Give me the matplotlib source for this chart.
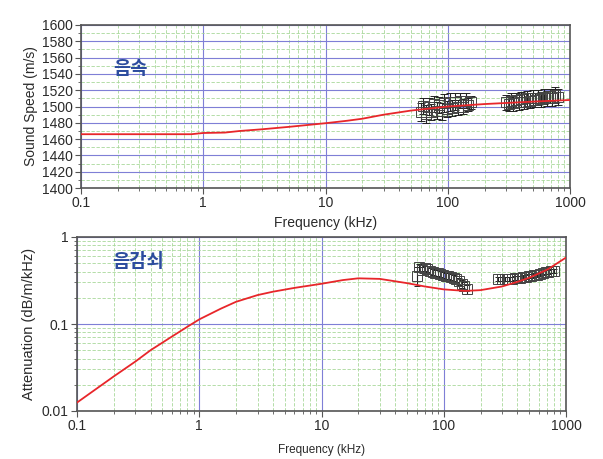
import matplotlib
matplotlib.use("Agg")
import matplotlib.pyplot as plt
from matplotlib.ticker import FixedLocator, FuncFormatter, LogLocator, MultipleLocator, NullFormatter

plt.rcParams['font.family'] = ['Liberation Sans', 'Noto Sans CJK KR', 'DejaVu Sans']

# ---- data ----
speed_curve_f = [0.1, 0.3, 0.8, 1.0, 1.5, 2, 3, 5, 10, 15, 20, 30, 50, 100, 200, 500, 1000]
speed_curve_v = [1466, 1466, 1466, 1467.5, 1468, 1470, 1472, 1475, 1479.5, 1482.5, 1485, 1490, 1495, 1500, 1503, 1506, 1508]

speed_g1_f = [60, 63, 66, 70, 73, 77, 81, 85, 89, 94, 99, 104, 109, 115, 121, 127, 133, 140, 147, 155]
speed_g1_v = [1493, 1501, 1491, 1500, 1493, 1503, 1495, 1502, 1494, 1504, 1497, 1505, 1498, 1506, 1499, 1507, 1500, 1507, 1502, 1505]
speed_g1_e = [11, 10, 11, 10, 10, 10, 10, 10, 10, 11, 10, 11, 10, 10, 9, 9, 9, 9, 8, 8]

speed_g2_f = [300, 315, 330, 345, 360, 380, 400, 420, 445, 470, 495, 520, 550, 580, 610, 645, 680, 715, 755, 795]
speed_g2_v = [1505, 1503, 1507, 1504, 1508, 1505, 1509, 1506, 1510, 1507, 1511, 1508, 1511, 1509, 1512, 1510, 1513, 1511, 1514, 1512]
speed_g2_e = [9, 9, 9, 9, 9, 9, 9, 9, 9, 9, 9, 9, 9, 9, 9, 9, 9, 10, 10, 10]

att_curve_f = [0.1, 0.2, 0.3, 0.4, 0.6, 0.8, 1, 1.5, 2, 3, 4, 6, 10, 15, 20, 30, 50, 70, 100, 150, 200, 300, 400, 500, 700, 1000]
att_curve_a = [0.0125, 0.025, 0.037, 0.05, 0.072, 0.093, 0.113, 0.15, 0.18, 0.215, 0.235, 0.26, 0.29, 0.32, 0.335, 0.33, 0.295, 0.27, 0.25, 0.24, 0.245, 0.27, 0.305, 0.34, 0.42, 0.58]

att_g1_f = [60, 63, 66, 70, 73, 77, 81, 85, 89, 94, 99, 104, 109, 115, 121, 127, 133, 140, 147, 155]
att_g1_a = [0.36, 0.45, 0.42, 0.44, 0.43, 0.41, 0.40, 0.39, 0.39, 0.38, 0.37, 0.36, 0.36, 0.35, 0.34, 0.33, 0.31, 0.29, 0.27, 0.25]
att_g1_e = [0.09, 0.04, 0.03, 0.03, 0.03, 0.03, 0.03, 0.03, 0.03, 0.03, 0.03, 0.03, 0.03, 0.03, 0.03, 0.03, 0.03, 0.03, 0.03, 0.03]

att_g2_f = [280, 300, 315, 330, 345, 360, 380, 400, 420, 445, 470, 495, 520, 550, 580, 610, 645, 680, 715, 755, 795]
att_g2_a = [0.33, 0.33, 0.33, 0.33, 0.33, 0.33, 0.34, 0.34, 0.34, 0.35, 0.35, 0.36, 0.36, 0.37, 0.37, 0.38, 0.39, 0.40, 0.40, 0.41, 0.41]
att_g2_e = [0.02] * 21

x_ticks = [0.1, 1, 10, 100, 1000]
x_ticklabels = ['0.1', '1', '10', '100', '1000']

# ---- style ----
RED = '#e8262a'
MAJ = '#7f7fd6'
MIN = '#a8d89a'
SPINE = '#555555'
TXT = '#2a2a2a'
KBLUE = '#2c4c9e'

fig = plt.figure(figsize=(6.03, 4.59), dpi=100)
ax1 = fig.add_axes([81/603, 1-188/459, 489/603, 163/459])
ax2 = fig.add_axes([77/603, 1-411/459, 489/603, 174/459])


def style(ax):
    ax.set_xscale('log')
    ax.set_xlim(0.1, 1000)
    ax.xaxis.set_major_locator(FixedLocator(x_ticks))
    ax.xaxis.set_major_formatter(FuncFormatter(lambda v, p: x_ticklabels[x_ticks.index(min(x_ticks, key=lambda t: abs(t - v)))]))
    ax.xaxis.set_minor_locator(LogLocator(base=10, subs=range(2, 10)))
    ax.xaxis.set_minor_formatter(NullFormatter())
    ax.grid(which='major', color=MAJ, lw=0.8, ls='-')
    ax.grid(which='minor', color=MIN, lw=0.6, ls=(0, (4, 2)))
    ax.set_axisbelow(True)
    for s in ax.spines.values():
        s.set_color(SPINE)
        s.set_linewidth(1.2)
    ax.tick_params(which='major', direction='out', length=4, width=0.8, color=SPINE,
                   labelsize=10, labelcolor=TXT, pad=2)
    ax.tick_params(which='minor', direction='out', length=2.5, width=0.6, color=SPINE)


# top
style(ax1)
ax1.set_ylim(1400, 1600)
ax1.yaxis.set_major_locator(MultipleLocator(20))
ax1.yaxis.set_minor_locator(MultipleLocator(10))
ax1.errorbar(speed_g1_f, speed_g1_v, yerr=speed_g1_e, fmt='s', mfc='none', mec='#444444',
             ms=7.5, mew=0.7, ecolor='#222222', elinewidth=0.8, capsize=3, capthick=0.8, zorder=3)
ax1.errorbar(speed_g2_f, speed_g2_v, yerr=speed_g2_e, fmt='s', mfc='none', mec='#444444',
             ms=7.5, mew=0.7, ecolor='#222222', elinewidth=0.8, capsize=3, capthick=0.8, zorder=3)
ax1.plot(speed_curve_f, speed_curve_v, color=RED, lw=1.3, zorder=4)
ax1.set_xlabel('Frequency (kHz)', fontsize=10, labelpad=4, color=TXT)
ax1.set_ylabel('Sound Speed (m/s)', fontsize=10, labelpad=3, color=TXT)
ax1.text(0.066, 0.735, '음속', transform=ax1.transAxes, fontsize=13.5, fontweight='bold',
         color=KBLUE, family=['Noto Sans CJK KR'], va='center', ha='left')

# bottom
style(ax2)
ax2.set_yscale('log')
ax2.set_ylim(0.01, 1)
ax2.yaxis.set_major_locator(FixedLocator([0.01, 0.1, 1]))
ax2.yaxis.set_major_formatter(FuncFormatter(lambda v, p: {0.01: '0.01', 0.1: '0.1', 1: '1'}.get(round(v, 3), '')))
ax2.yaxis.set_minor_locator(LogLocator(base=10, subs=range(2, 10)))
ax2.yaxis.set_minor_formatter(NullFormatter())
ax2.grid(which='major', color=MAJ, lw=0.8, ls='-')
ax2.errorbar(att_g1_f, att_g1_a, yerr=att_g1_e, fmt='s', mfc='none', mec='#444444',
             ms=7, mew=0.7, ecolor='#222222', elinewidth=0.8, capsize=2, capthick=0.8, zorder=3)
ax2.errorbar(att_g2_f, att_g2_a, yerr=att_g2_e, fmt='s', mfc='none', mec='#444444',
             ms=7, mew=0.7, ecolor='#222222', elinewidth=0.8, capsize=2, capthick=0.8, zorder=3)
ax2.plot(att_curve_f, att_curve_a, color=RED, lw=1.3, zorder=4)
ax2.set_xlabel('Frequency (kHz)', fontsize=8.5, labelpad=8, color=TXT)
ax2.set_ylabel('Attenuation (dB/m/kHz)', fontsize=10.5, labelpad=4, color=TXT)
ax2.text(0.072, 0.86, '음감쇠', transform=ax2.transAxes, fontsize=13.5, fontweight='bold',
         color=KBLUE, family=['Noto Sans CJK KR'], va='center', ha='left')

fig.savefig('out.png', dpi=100)
